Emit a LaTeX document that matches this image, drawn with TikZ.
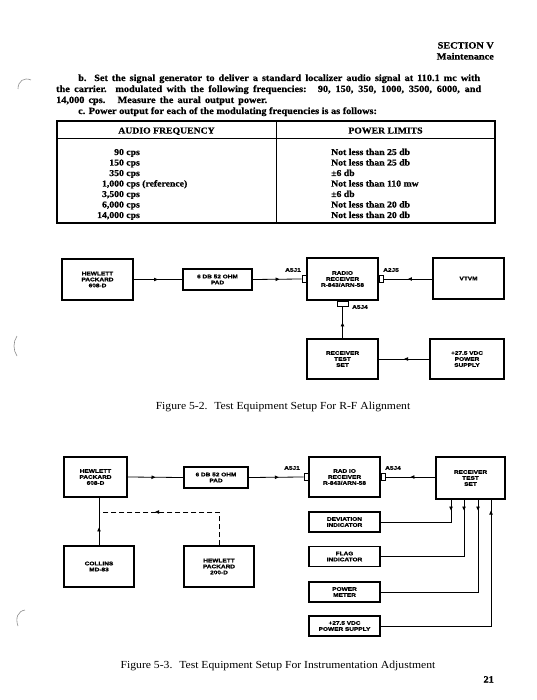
\documentclass[tikz,border=0pt]{standalone}
\usepackage{fontspec}
\setmainfont{Liberation Serif}[FakeStretch=1.08, BoldFeatures={FakeBold=0.6}]
\newfontfamily\lblfont{Liberation Sans}[FakeStretch=1.25, BoldFeatures={FakeBold=1}]
\usetikzlibrary{arrows.meta,decorations.markings}
\tikzset{
 blk/.style={draw, line width=1.1pt, inner sep=0pt, align=center, font=\lblfont\bfseries\fontsize{5.2}{6}\selectfont},
 jack/.style={draw, line width=0.8pt, fill=white, inner sep=0pt},
 conn/.style={line width=0.8pt},
 arrat/.style={postaction={decorate}, decoration={markings, mark=at position #1 with {\arrow{Triangle[length=4pt,width=3.4pt]}}}},
 jlab/.style={inner sep=0pt, font=\lblfont\bfseries\fontsize{5.2}{6}\selectfont},
 body/.style={inner sep=0pt, font=\bfseries\fontsize{9.5}{11}\selectfont},
 captxt/.style={inner sep=0pt, font=\fontsize{10.8}{12}\selectfont},
 tbl/.style={inner sep=0pt, font=\bfseries\fontsize{9}{10.5}\selectfont},
 hole/.style={draw=black!45, line width=0.6pt},
}
\begin{document}
\begin{tikzpicture}[x=1pt,y=-1pt]
\useasboundingbox (0,0) rectangle (537,700);
\fill[white] (0,0) rectangle (537,700);

% header
\node[body, anchor=base east] (sec) at (494,48.5) {SECTION V};
\node[body, anchor=base east] (mnt) at (494,59.5) {Maintenance};

% paragraph
\node[body, anchor=base west] (pb1) at (78,81) {\makebox[402pt][s]{b. Set the signal generator to deliver a standard localizer audio signal at 110.1 mc with}};
\node[body, anchor=base west] (pb2) at (56,92) {\makebox[425pt][s]{the carrier. modulated with the following frequencies: \ 90, 150, 350, 1000, 3500, 6000, and}};
\node[body, anchor=base west] (pb3) at (56,103) {\makebox[211pt][s]{14,000 cps. \ Measure the aural output power.}};
\node[body, anchor=base west] (pc1) at (78,114) {c. Power output for each of the modulating frequencies is as follows:};

% table
\draw[line width=1.3pt] (57,121) rectangle (495,223);
\draw[line width=1pt] (57,139) -- (495,139);
\draw[line width=1pt] (276,121) -- (276,223);
\node[tbl, anchor=base] (th1) at (166.5,133.5) {AUDIO FREQUENCY};
\node[tbl, anchor=base] (th2) at (385.5,133.5) {POWER LIMITS};
\node[tbl, anchor=base west] (tc1) at (97,155) {\begin{tabular}[t]{@{}r@{ }l@{}}
90 & cps\\ 150 & cps\\ 350 & cps\\ 1,000 & cps (reference)\\ 3,500 & cps\\ 6,000 & cps\\ 14,000 & cps\end{tabular}};
\node[tbl, anchor=base west] (tc2) at (331,155) {\begin{tabular}[t]{@{}l@{}}
Not less than 25 db\\ Not less than 25 db\\ \textpm6 db\\ Not less than 110 mw\\ \textpm6 db\\ Not less than 20 db\\ Not less than 20 db\end{tabular}};

% ---------- Figure 5-2
\node[blk, minimum width=71pt, minimum height=41pt] (hp1) at (97.5,279.5) {HEWLETT\\PACKARD\\608-D};
\node[blk, minimum width=69pt, minimum height=21pt] (pad1) at (217.5,279.5) {6 DB 52 OHM\\PAD};
\node[blk, minimum width=71pt, minimum height=42pt] (rx1) at (342.5,279) {RADIO\\RECEIVER\\R-843/ARN-58};
\node[blk, minimum width=71pt, minimum height=41pt] (vtvm) at (468.5,278.5) {VTVM};
\node[blk, minimum width=71pt, minimum height=40pt] (rts1) at (342.5,359) {RECEIVER\\TEST\\SET};
\node[blk, minimum width=74pt, minimum height=40pt] (ps1) at (467,359) {+27.5 VDC\\POWER\\SUPPLY};
\node[jack, minimum width=4pt, minimum height=7pt, anchor=east] (j1) at (rx1.west) {};
\node[jack, minimum width=4pt, minimum height=7pt, anchor=west] (j2) at (rx1.east) {};
\node[jack, minimum width=11pt, minimum height=5pt, anchor=north] (j3) at (rx1.south) {};
\node[jlab] (l1) at (293,270) {A5J1};
\node[jlab] (l2) at (391,270) {A2J5};
\node[jlab, anchor=west] (l3) at (352,307) {A5J4};
\draw[conn, arrat=0.5] (hp1.east) -- (pad1.west);
\draw[conn, arrat=0.55] (pad1.east) -- (j1.west);
\draw[conn, arrat=0.5] (vtvm.west |- j2.east) -- (j2.east);
\draw[conn, arrat=0.5] (rts1.north) -- (j3.south);
\draw[conn, arrat=0.5] (ps1.west) -- (rts1.east);
\node[captxt, anchor=base] (cap1) at (283,409.5) {Figure 5-2. \ Test Equipment Setup For R-F Alignment};

% ---------- Figure 5-3
\node[blk, minimum width=63pt, minimum height=40pt] (hp2) at (95.5,477) {HEWLETT\\PACKARD\\608-D};
\node[blk, minimum width=64pt, minimum height=21pt] (pad2) at (216,477.5) {6 DB 52 OHM\\PAD};
\node[blk, minimum width=71pt, minimum height=40pt] (rx2) at (344.5,477) {RAD IO\\RECEIVER\\R-843/ARN-58};
\node[blk, minimum width=69pt, minimum height=42pt] (rts2) at (470.5,478) {RECEIVER\\TEST\\SET};
\node[blk, minimum width=71pt, minimum height=20pt] (dev) at (344.5,522) {DEVIATION\\INDICATOR};
\node[blk, minimum width=71pt, minimum height=20pt] (flag) at (344.5,556.5) {FLAG\\INDICATOR};
\node[blk, minimum width=71pt, minimum height=20pt] (pm) at (344.5,592) {POWER\\METER};
\node[blk, minimum width=71pt, minimum height=20pt] (ps2) at (344.5,626) {+27.5 VDC\\POWER SUPPLY};
\node[blk, minimum width=70pt, minimum height=41pt] (coll) at (99,566.5) {COLLINS\\MD-83};
\node[blk, minimum width=70pt, minimum height=41pt] (hp3) at (219,566.5) {HEWLETT\\PACKARD\\200-D};
\node[jack, minimum width=4pt, minimum height=7pt, anchor=east] (k1) at (rx2.west) {};
\node[jack, minimum width=4pt, minimum height=7pt, anchor=west] (k2) at (rx2.east) {};
\node[jlab] (m1) at (292,468) {A5J1};
\node[jlab] (m2) at (393,468) {A5J4};
\draw[conn, arrat=0.5] (hp2.east) -- (pad2.west);
\draw[conn, arrat=0.55] (pad2.east) -- (k1.west);
\draw[conn, arrat=0.5] (rts2.west |- k2.east) -- (k2.east);
\coordinate (t1) at (451,0);
\coordinate (t2) at (464,0);
\coordinate (t3) at (478,0);
\coordinate (t4) at (491,0);
\draw[conn, arrat=11pt] (rts2.south -| t1) -- (t1 |- dev.east) -- (dev.east);
\draw[conn, arrat=11pt] (rts2.south -| t2) -- (t2 |- flag.east) -- (flag.east);
\draw[conn, arrat=11pt] (rts2.south -| t3) -- (t3 |- pm.east) -- (pm.east);
\draw[conn, arrat=-11pt] (ps2.east) -- (t4 |- ps2.east) -- (rts2.south -| t4);
\coordinate (jn) at (99,512);
\draw[conn, arrat=18pt] (coll.north) -- (coll.north |- hp2.south);
\draw[conn, dash pattern=on 5pt off 3pt, arrat=-56pt] (hp3.north) -- (hp3.north |- jn) -- (jn);
\node[captxt, anchor=base] (cap2) at (278,668.5) {Figure 5-3. \ Test Equipment Setup For Instrumentation Adjustment};
\node[body, anchor=base east] (pg) at (494,682.5) {21};

% punch-hole marks
\draw[hole] (18,89) .. controls (18,81) and (24,77) .. (31,80);
\draw[hole] (17,336) .. controls (13,342) and (13,350) .. (17,356);
\draw[hole] (25,610) .. controls (18,611) and (15,618) .. (18,626);
\end{tikzpicture}
\end{document}
